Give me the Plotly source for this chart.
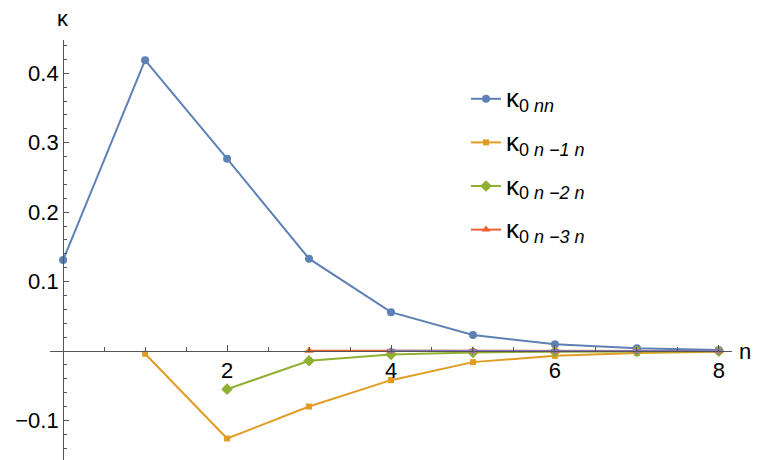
import plotly.graph_objects as go

# Coupling coefficients kappa_{0, n-k, n} versus n
n_all = [0, 1, 2, 3, 4, 5, 6, 7, 8]
kappa_nn = [0.131, 0.419, 0.277, 0.133, 0.056, 0.023, 0.0097, 0.004, 0.0015]

n_m1 = [1, 2, 3, 4, 5, 6, 7, 8]
kappa_n_m1 = [-0.004, -0.126, -0.080, -0.042, -0.016, -0.007, -0.003, -0.001]

n_m2 = [2, 3, 4, 5, 6, 7, 8]
kappa_n_m2 = [-0.055, -0.014, -0.005, -0.002, -0.001, -0.0004, -0.0002]

n_m3 = [3, 4, 5, 6, 7, 8]
kappa_n_m3 = [0.0004, 0.0003, 0.0002, 0.0001, 0.0001, 0.0]

n_m4 = [4, 5, 6, 7, 8]
kappa_n_m4 = [0.0002, 0.0001, 0.0001, 0.0, 0.0]

x_ticks = [2, 4, 6, 8]
y_ticks = [-0.1, 0.1, 0.2, 0.3, 0.4]
y_tick_text = ["\u22120.1", "0.1", "0.2", "0.3", "0.4"]

W, H = 757, 460
X_RANGE = [-0.16, 8.16]
Y_RANGE = [-0.157, 0.448]
X_DOM = [50 / W, 732 / W]
Y_DOM = [0.0, 420 / H]

FONT = "Liberation Sans, Arial, sans-serif"
BLUE, ORANGE, GREEN, RED, PURPLE = "#5E81B5", "#E19C24", "#8FB032", "#EB6235", "#8778B3"

fig = go.Figure()

def add_series(x, y, color, symbol, size, name, show=True):
    fig.add_trace(go.Scatter(
        x=x, y=y, mode="lines+markers", name=name, showlegend=show,
        legendgroup=name,
        line=dict(color=color, width=2),
        marker=dict(color=color, symbol=symbol, size=size),
    ))

def kappa_label(sub):
    return ('<span style="font-size:26px">\u03ba</span>'
            '<sub><span style="font-size:18px">0 <i>' + sub + '</i></span></sub>')

add_series(n_all, kappa_nn, BLUE, "circle", 8, kappa_label("nn"))
add_series(n_m1, kappa_n_m1, ORANGE, "square", 6, kappa_label("n \u22121 n"))
add_series(n_m2, kappa_n_m2, GREEN, "diamond", 9, kappa_label("n \u22122 n"))
add_series(n_m3, kappa_n_m3, RED, "triangle-up", 8, kappa_label("n \u22123 n"))
add_series(n_m4, kappa_n_m4, PURPLE, "triangle-down", 8, "n-4", show=False)

# axes crossing at the origin
x0_paper = X_DOM[0] + (0 - X_RANGE[0]) / (X_RANGE[1] - X_RANGE[0]) * (X_DOM[1] - X_DOM[0])
y0_paper = Y_DOM[0] + (0 - Y_RANGE[0]) / (Y_RANGE[1] - Y_RANGE[0]) * (Y_DOM[1] - Y_DOM[0])

axis_col = "#555555"
fig.update_layout(
    width=W, height=H,
    margin=dict(l=0, r=0, t=0, b=0),
    paper_bgcolor="white", plot_bgcolor="white",
    font=dict(family=FONT, color="black", size=21),
    xaxis=dict(
        range=X_RANGE, domain=X_DOM, anchor="free", position=y0_paper,
        showgrid=False, zeroline=False, showline=True, linecolor=axis_col, linewidth=1,
        tickmode="array", tickvals=x_ticks, ticks="inside", ticklen=6,
        tickcolor=axis_col, tickfont=dict(size=22),
        minor=dict(tickmode="array", tickvals=[i * 0.5 for i in range(1, 17)],
                   ticks="inside", ticklen=4, tickcolor=axis_col),
    ),
    yaxis=dict(
        range=Y_RANGE, domain=Y_DOM, anchor="free", position=x0_paper,
        showgrid=False, zeroline=False, showline=True, linecolor=axis_col, linewidth=1,
        tickmode="array", tickvals=y_ticks, ticktext=y_tick_text,
        ticks="inside", ticklen=5, tickcolor=axis_col, tickfont=dict(size=22),
        minor=dict(tickmode="array",
                   tickvals=[round(-0.14 + 0.02 * i, 2) for i in range(30)],
                   ticks="inside", ticklen=3, tickcolor=axis_col),
    ),
    legend=dict(
        x=466 / W, y=1 - 78 / H, xanchor="left", yanchor="top",
        font=dict(size=22), tracegroupgap=12, bgcolor="rgba(0,0,0,0)",
    ),
    annotations=[
        dict(text="\u03ba", x=x0_paper, y=1 - 18 / H, xref="paper", yref="paper",
             showarrow=False, font=dict(size=22), xanchor="center", yanchor="middle"),
        dict(text="n", x=745 / W, y=y0_paper, xref="paper", yref="paper",
             showarrow=False, font=dict(size=22), xanchor="center", yanchor="middle"),
    ],
)

fig.write_html("out.html")
